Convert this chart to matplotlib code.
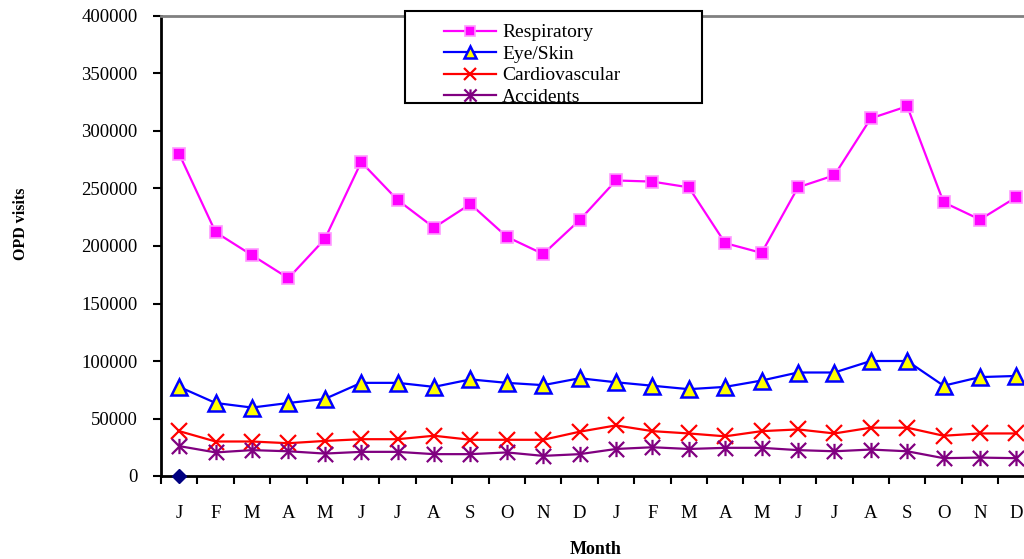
#!/usr/bin/env python3
import matplotlib
matplotlib.use('Agg')
import matplotlib.pyplot as plt
from matplotlib.path import Path
from matplotlib.patches import Rectangle

# two years of monthly OPD visits
months = ["J", "F", "M", "A", "M", "J", "J", "A", "S", "O", "N", "D"] * 2
respiratory = [280000, 212000, 192000, 172000, 206000, 273000, 240000, 216000, 236500, 208000, 193000, 222500,
               257000, 256000, 251000, 202500, 194000, 251000, 261500, 311000, 321500, 238000, 223000, 242500]
eye_skin = [77500, 63500, 59500, 63500, 67000, 81000, 81000, 77500, 84000, 81000, 79000, 85000,
            81500, 78500, 75500, 77500, 83000, 90000, 90000, 100000, 100000, 78500, 86000, 87000]
cardio = [39000, 30000, 30000, 28500, 30500, 32000, 32000, 35000, 31500, 31500, 31500, 38500,
          44000, 39000, 37000, 34500, 39000, 40500, 37000, 42000, 42000, 35000, 37000, 37000]
accidents = [26000, 20500, 22500, 21500, 19500, 21000, 21000, 19000, 19000, 20500, 17500, 19000,
             23500, 25000, 23500, 24500, 24500, 22500, 21500, 23000, 21500, 15500, 16000, 15500]
other = [0]  # the lone navy point at the first January

yticks = list(range(0, 400001, 50000))

plt.rcParams['font.family'] = ['Liberation Serif', 'DejaVu Serif']

fig = plt.figure(figsize=(10.24, 5.59), dpi=100)
# plot area runs past the right edge of the figure, like the reference
ax = fig.add_axes([161 / 1024, 1 - 476 / 559, 873.6 / 1024, 460 / 559])

x = list(range(len(months)))
star = Path([(0, -1), (0, 1), (-1, -1), (1, 1), (-1, 1), (1, -1)],
            [Path.MOVETO, Path.LINETO] * 3)

ax.plot(x, respiratory, color='#FF00FF', lw=1.6, marker='s', ms=9, mfc='#FF00FF',
        mec='#FF99FF', mew=1.2, label='Respiratory')
ax.plot(x, eye_skin, color='#0000FF', lw=1.6, marker='^', ms=11, mfc='#FFFF00',
        mec='#0000FF', mew=1.8, label='Eye/Skin')
ax.plot(x, cardio, color='#FF0000', lw=1.6, marker='x', ms=11, mew=1.6, label='Cardiovascular')
ax.plot(x, accidents, color='#800080', lw=1.6, marker=star, ms=11, mew=1.6, label='Accidents')
ax.plot(x[:len(other)], other, color='#000080', marker='D', ms=7, ls='none',
        clip_on=False, zorder=5)

ax.set_xlim(-0.5, len(months) - 0.5)
ax.set_ylim(0, 400000)

ax.set_yticks(yticks)
ax.set_yticklabels([str(v) for v in yticks])
ax.tick_params(axis='y', direction='out', length=6, width=1.5, pad=11, labelsize=13.5)

ax.set_xticks(x)
ax.set_xticklabels(months)
ax.set_xticks([i - 0.5 for i in range(len(months) + 1)], minor=True)
ax.tick_params(axis='x', which='major', length=0, pad=21, labelsize=13.5)
ax.tick_params(axis='x', which='minor', direction='out', length=6, width=1.5)

for side in ['left', 'bottom']:
    ax.spines[side].set_linewidth(2)
    ax.spines[side].set_color('black')
ax.spines['top'].set_color('#808080')
ax.spines['top'].set_linewidth(2)
ax.spines['right'].set_visible(False)

ax.set_ylabel('OPD visits', fontsize=11.5, fontweight='bold')
ax.yaxis.set_label_coords(-0.151, 0.548)
ax.set_xlabel('Month', fontsize=13, fontweight='bold', va='center')
ax.xaxis.set_label_coords(0.498, -0.16)

# legend box (text of the last entry spills over the frame in the reference)
fig.patches.append(Rectangle((405 / 1024, 1 - 103 / 559), 297 / 1024, 92 / 559,
                             transform=fig.transFigure, facecolor='white',
                             edgecolor='black', lw=1.5, zorder=3))
leg = fig.legend(loc='upper left', bbox_to_anchor=(434 / 1024, 1 - 14 / 559),
                 frameon=False, fontsize=14, handlelength=2.7, handletextpad=0.3,
                 labelspacing=0.2, borderpad=0, markerscale=0.8)
leg.set_zorder(4)

fig.savefig('out.png', dpi=100)
